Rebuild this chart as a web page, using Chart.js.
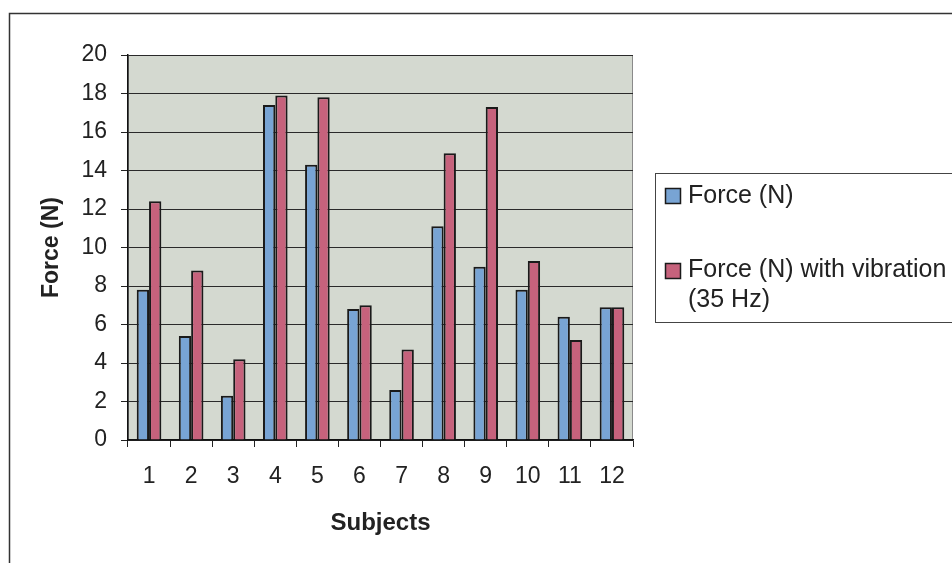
<!DOCTYPE html>
<html>
<head>
<meta charset="utf-8">
<script src="https://cdn.jsdelivr.net/npm/chart.js@4/dist/chart.umd.min.js"></script>
<style>
  html, body { margin: 0; padding: 0; background: #ffffff; }
  #wrap { width: 952px; height: 563px; position: relative; }
</style>
</head>
<body>
<div id="wrap"><canvas id="c" width="952" height="563"></canvas></div>
<script>
// Subjects on the x axis
const subjects = ['1', '2', '3', '4', '5', '6', '7', '8', '9', '10', '11', '12'];
// Force per subject, without and with 35 Hz vibration
const force = [7.8, 5.4, 2.3, 17.4, 14.3, 6.8, 2.6, 11.1, 9.0, 7.8, 6.4, 6.9];
const forceVibration = [12.4, 8.8, 4.2, 17.9, 17.8, 7.0, 4.7, 14.9, 17.3, 9.3, 5.2, 6.9];
// Series names shown in the legend
const seriesLabels = ['Force (N)', ['Force (N) with vibration', '(35 Hz)']];
// Y axis range
const yMin = 0, yMax = 20, yStep = 2;

const FONT = '"Liberation Sans", Arial, sans-serif';
const TEXT = '#222222';

// Grey plot background, outer frame and the boxed legend on the right
const decorations = {
  id: 'decorations',
  beforeDraw(chart) {
    const { ctx, chartArea: a } = chart;
    ctx.save();
    ctx.fillStyle = '#ffffff';
    ctx.fillRect(0, 0, chart.width, chart.height);
    ctx.fillStyle = '#d4d9d0';
    ctx.fillRect(a.left, a.top, a.right - a.left, a.bottom - a.top);
    ctx.strokeStyle = '#8a8a8a';
    ctx.lineWidth = 1;
    ctx.strokeRect(a.left + 0.5, a.top + 0.5, a.right - a.left - 1, a.bottom - a.top);
    ctx.restore();
  },
  afterDraw(chart) {
    const { ctx } = chart;
    ctx.save();
    // outer chart frame
    ctx.strokeStyle = '#333333';
    ctx.lineWidth = 1.5;
    ctx.strokeRect(9.5, 13.5, 1000, 600);
    // legend box
    ctx.lineWidth = 1;
    ctx.strokeStyle = '#444444';
    ctx.strokeRect(655.5, 173.5, 400, 149);
    const rows = [{ y: 196, swY: 188 }, { y: 270, swY: 263 }];
    ctx.font = '25px ' + FONT;
    ctx.textBaseline = 'middle';
    ctx.textAlign = 'left';
    chart.data.datasets.forEach((ds, i) => {
      const r = rows[i];
      ctx.fillStyle = ds.backgroundColor;
      ctx.fillRect(665, r.swY, 16, 16);
      ctx.strokeStyle = '#1a1a1a';
      ctx.lineWidth = 1.5;
      ctx.strokeRect(665.5, r.swY + 0.5, 15, 15);
      ctx.fillStyle = TEXT;
      const lines = Array.isArray(seriesLabels[i]) ? seriesLabels[i] : [seriesLabels[i]];
      lines.forEach((t, k) => ctx.fillText(t, 688, r.y + k * 30));
    });
    ctx.restore();
  }
};

new Chart(document.getElementById('c'), {
  type: 'bar',
  data: {
    labels: subjects,
    datasets: [
      {
        label: 'Force (N)',
        data: force,
        backgroundColor: '#78a4d4',
        borderColor: '#1a1a1a',
        borderWidth: 2,
        categoryPercentage: 0.585,
        barPercentage: 1.0
      },
      {
        label: 'Force (N) with vibration (35 Hz)',
        data: forceVibration,
        backgroundColor: '#c6627c',
        borderColor: '#1a1a1a',
        borderWidth: 2,
        categoryPercentage: 0.585,
        barPercentage: 1.0
      }
    ]
  },
  options: {
    responsive: false,
    animation: false,
    devicePixelRatio: 1,
    layout: { padding: { left: 10, top: 55, right: 319, bottom: 0 } },
    plugins: {
      legend: { display: false },
      tooltip: { enabled: false }
    },
    scales: {
      x: {
        afterFit(scale) { scale.height = 123; },
        grid: {
          offset: true,
          drawOnChartArea: false,
          drawTicks: true,
          tickLength: 7,
          tickColor: '#222222',
          lineWidth: 1
        },
        border: { display: true, color: '#111111', width: 1.5 },
        ticks: {
          color: TEXT,
          font: { family: FONT, size: 23 },
          padding: 16,
          maxRotation: 0,
          autoSkip: false
        },
        title: {
          display: true,
          text: 'Subjects',
          color: TEXT,
          font: { family: FONT, size: 24, weight: 'bold' },
          padding: { top: 0, bottom: 25 }
        }
      },
      y: {
        min: yMin,
        max: yMax,
        afterFit(scale) { scale.width = 118; },
        grid: {
          color: '#2a2a2a',
          lineWidth: 1,
          drawTicks: true,
          tickLength: 7,
          tickColor: '#222222'
        },
        border: { display: true, color: '#111111', width: 1.5 },
        ticks: {
          stepSize: yStep,
          color: TEXT,
          font: { family: FONT, size: 23 },
          padding: 14
        },
        title: {
          display: true,
          text: 'Force (N)',
          color: TEXT,
          font: { family: FONT, size: 23, weight: 'bold' },
          padding: { top: 28, bottom: 0 }
        }
      }
    }
  },
  plugins: [decorations]
});
</script>
</body>
</html>
